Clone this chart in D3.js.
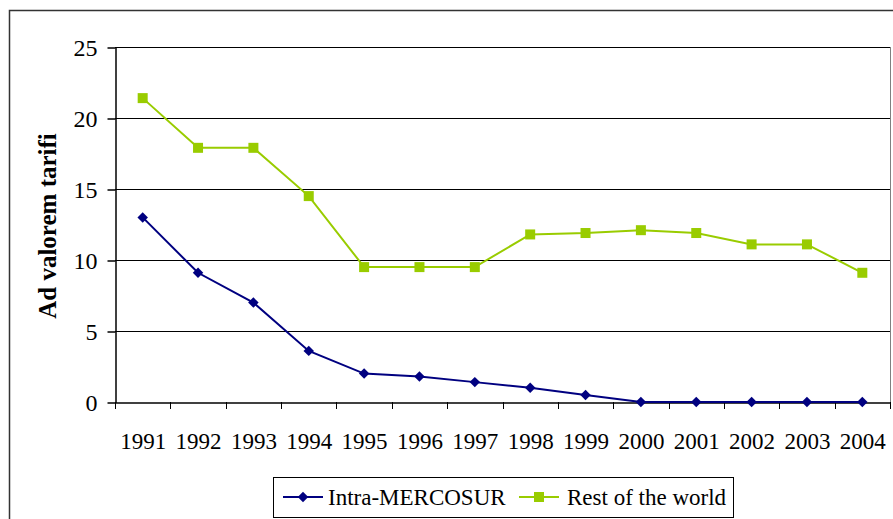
<!DOCTYPE html>
<html>
<head>
<meta charset="utf-8">
<script src="https://cdn.jsdelivr.net/npm/d3@7"></script>
<style>
  body { margin: 0; background: #fff; }
  svg text { font-family: "Liberation Serif", "Times New Roman", Times, "DejaVu Serif", serif !important; }
</style>
</head>
<body>
<div id="chart"></div>
<script>
var years = ["1991", "1992", "1993", "1994", "1995", "1996", "1997", "1998", "1999", "2000", "2001", "2002", "2003", "2004"];
var intraMercosur = [13.0, 9.1, 7.0, 3.6, 2.0, 1.8, 1.4, 1.0, 0.5, 0, 0, 0, 0, 0];
var restOfWorld = [21.4, 17.9, 17.9, 14.5, 9.5, 9.5, 9.5, 11.8, 11.9, 12.1, 11.9, 11.1, 11.1, 9.1];
var yTicks = [0, 5, 10, 15, 20, 25];
var seriesNames = ["Intra-MERCOSUR", "Rest of the world"];

const width = 893;
const height = 519;
const plotLeft = 115, plotRight = 890, plotTop = 47, plotBottom = 402;

const navy = "#000080";
const green = "#99cc00";

const xScale = d3.scaleBand()
    .domain(years)
    .range([plotLeft, plotRight]);

const yScale = d3.scaleLinear()
    .domain([0, 25])
    .range([plotBottom, plotTop]);

let svg = d3.select('#chart')
    .append('svg')
    .attr('width', width)
    .attr('height', height);

// outer chart border
svg.append('rect')
    .attr('x', 9.5).attr('y', 10.5)
    .attr('width', 900).attr('height', 520)
    .attr('fill', 'none')
    .attr('stroke', '#333')
    .attr('stroke-width', 1.5);

// plot area right border
svg.append('line')
    .attr('x1', plotRight + 0.5).attr('x2', plotRight + 0.5)
    .attr('y1', plotTop).attr('y2', plotBottom)
    .attr('stroke', '#808080');

// gridlines
svg.append('g')
    .selectAll('line')
    .data(yTicks.slice(1))
    .enter()
    .append('line')
    .attr('x1', plotLeft).attr('x2', plotRight)
    .attr('y1', d => Math.round(yScale(d)) + 0.5)
    .attr('y2', d => Math.round(yScale(d)) + 0.5)
    .attr('stroke', '#000');

// y-axis
let yAxis = svg.append('g')
    .attr('transform', `translate(${plotLeft + 0.5}, 0.5)`)
    .call(d3.axisLeft(yScale).tickValues(yTicks).tickSize(8).tickPadding(10).tickSizeOuter(0));
yAxis.selectAll('text')
    .attr('font-size', 24)
    .attr('fill', '#000');
yAxis.selectAll('line, path').attr('stroke', '#000').attr('stroke-width', 1.5);

// x-axis
let xAxis = svg.append('g')
    .attr('transform', `translate(0.5, ${plotBottom + 0.5})`)
    .call(d3.axisBottom(xScale).tickSize(0).tickPadding(30).tickSizeOuter(0));
xAxis.selectAll('text')
    .attr('font-size', 23)
    .attr('fill', '#000');
xAxis.select('.domain').attr('stroke', '#000').attr('stroke-width', 1.5);

// x tick marks on band boundaries
svg.append('g')
    .selectAll('line')
    .data(years)
    .enter()
    .append('line')
    .attr('x1', d => Math.round(xScale(d)) + 0.5)
    .attr('x2', d => Math.round(xScale(d)) + 0.5)
    .attr('y1', plotBottom)
    .attr('y2', plotBottom + 7)
    .attr('stroke', '#000');
svg.append('line')
    .attr('x1', plotRight + 0.5).attr('x2', plotRight + 0.5)
    .attr('y1', plotBottom).attr('y2', plotBottom + 7)
    .attr('stroke', '#000');

// y-axis title
svg.append('text')
    .attr('transform', 'translate(56, 226) rotate(-90)')
    .attr('text-anchor', 'middle')
    .attr('font-size', 25)
    .attr('font-weight', 'bold')
    .text('Ad valorem tarifi');

const cx = (d, i) => xScale(years[i]) + xScale.bandwidth() / 2;

const line = d3.line()
    .x((d, i) => cx(d, i))
    .y(d => yScale(d));

// rest of the world
svg.append('path')
    .datum(restOfWorld)
    .attr('fill', 'none')
    .attr('stroke', green)
    .attr('stroke-width', 2)
    .attr('d', line);

svg.append('g')
    .selectAll('rect')
    .data(restOfWorld)
    .enter()
    .append('rect')
    .attr('x', (d, i) => cx(d, i) - 5)
    .attr('y', d => yScale(d) - 5)
    .attr('width', 10)
    .attr('height', 10)
    .attr('fill', green);

// intra-mercosur
svg.append('path')
    .datum(intraMercosur)
    .attr('fill', 'none')
    .attr('stroke', navy)
    .attr('stroke-width', 2)
    .attr('d', line);

const diamond = d3.symbol().type(d3.symbolDiamond2).size(70);

svg.append('g')
    .selectAll('path')
    .data(intraMercosur)
    .enter()
    .append('path')
    .attr('transform', (d, i) => `translate(${cx(d, i)}, ${yScale(d)})`)
    .attr('d', diamond)
    .attr('fill', navy);

// legend
let legend = svg.append('g');
legend.append('rect')
    .attr('x', 273.5).attr('y', 477.5)
    .attr('width', 460).attr('height', 40)
    .attr('fill', '#fff')
    .attr('stroke', '#000');

legend.append('line')
    .attr('x1', 283).attr('x2', 323).attr('y1', 497).attr('y2', 497)
    .attr('stroke', navy).attr('stroke-width', 2);
legend.append('path')
    .attr('transform', 'translate(303, 497)')
    .attr('d', diamond)
    .attr('fill', navy);
legend.append('text')
    .attr('x', 328).attr('y', 505)
    .attr('font-size', 23)
    .text(seriesNames[0]);

legend.append('line')
    .attr('x1', 519).attr('x2', 559).attr('y1', 497).attr('y2', 497)
    .attr('stroke', green).attr('stroke-width', 2);
legend.append('rect')
    .attr('x', 534).attr('y', 492)
    .attr('width', 10).attr('height', 10)
    .attr('fill', green);
legend.append('text')
    .attr('x', 567).attr('y', 505)
    .attr('font-size', 23)
    .text(seriesNames[1]);
</script>
</body>
</html>
